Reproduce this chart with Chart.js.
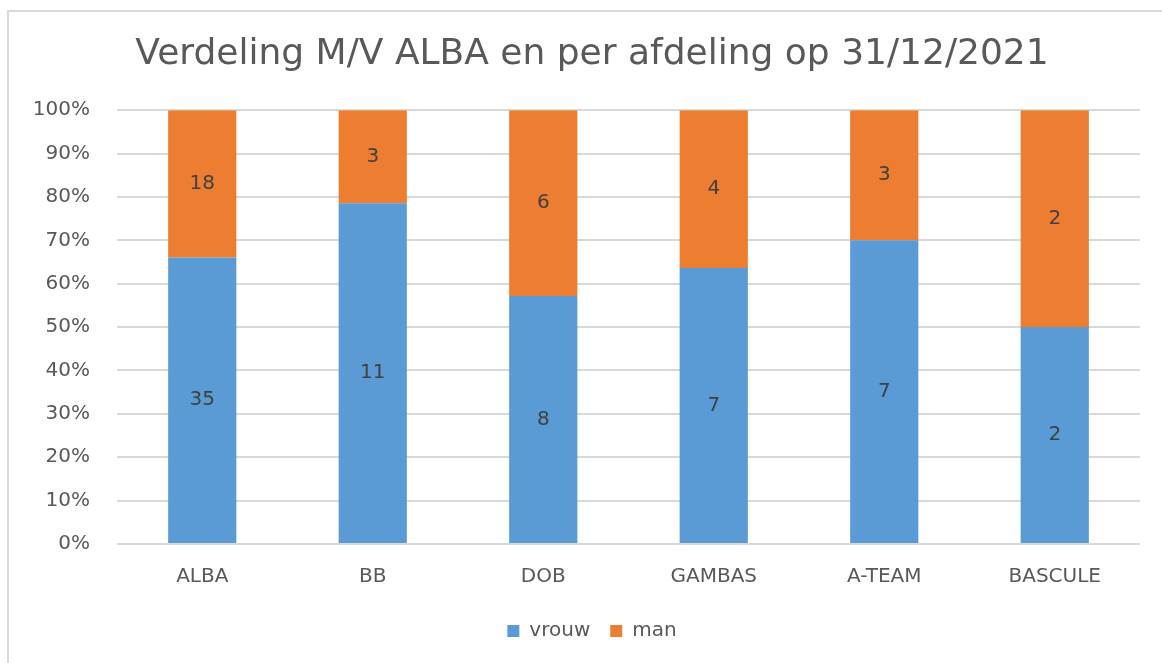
<!DOCTYPE html>
<html>
<head>
<meta charset="utf-8">
<script src="https://cdn.jsdelivr.net/npm/chart.js@4/dist/chart.umd.min.js"></script>
<style>
  html, body { margin: 0; padding: 0; background: #fff; }
  #wrap { width: 1162px; height: 663px; }
</style>
</head>
<body>
<div id="wrap"><canvas id="chart" width="1162" height="663"></canvas></div>
<script>
const categories = ["ALBA", "BB", "DOB", "GAMBAS", "A-TEAM", "BASCULE"];
const vrouw = [35, 11, 8, 7, 7, 2];
const man = [18, 3, 6, 4, 3, 2];
const yTicks = [0, 10, 20, 30, 40, 50, 60, 70, 80, 90, 100];

const totals = categories.map((c, i) => vrouw[i] + man[i]);
const pct = (arr) => arr.map((v, i) => (v / totals[i]) * 100);

const FONT = "'DejaVu Sans', sans-serif";
const GREY = "#595959";
const CENTER_X = 592;

// kader rond de grafiek
const frame = {
  id: "frame",
  beforeDraw(chart) {
    const ctx = chart.ctx;
    ctx.save();
    ctx.strokeStyle = "#d9d9d9";
    ctx.lineWidth = 2;
    ctx.strokeRect(8, 11, 1200, 700);
    ctx.restore();
  },
};

// titel en legende iets naar rechts, zoals in excel
const shiftBoxes = {
  id: "shiftBoxes",
  afterLayout(chart) {
    [chart.titleBlock, chart.legend].forEach((box) => {
      if (!box) return;
      const d = CENTER_X - (box.left + box.right) / 2;
      box.left += d;
      box.right += d;
    });
  },
};

// aantallen midden in elk segment
const counts = {
  id: "counts",
  afterDatasetsDraw(chart) {
    const ctx = chart.ctx;
    ctx.save();
    ctx.font = "20px " + FONT;
    ctx.fillStyle = "#404040";
    ctx.textAlign = "center";
    ctx.textBaseline = "middle";
    chart.data.datasets.forEach((ds, di) => {
      chart.getDatasetMeta(di).data.forEach((bar, i) => {
        const mid = (bar.y + bar.base) / 2;
        ctx.fillText(String(ds.counts[i]), bar.x, mid);
      });
    });
    ctx.restore();
  },
};

new Chart(document.getElementById("chart").getContext("2d"), {
  type: "bar",
  data: {
    labels: categories,
    datasets: [
      { label: "vrouw", data: pct(vrouw), counts: vrouw, backgroundColor: "#5b9bd5" },
      { label: "man", data: pct(man), counts: man, backgroundColor: "#ed7d31" },
    ],
  },
  options: {
    responsive: false,
    animation: false,
    layout: { padding: { top: 10, right: 22, bottom: 12, left: 0 } },
    datasets: { bar: { categoryPercentage: 0.8, barPercentage: 0.5 } },
    scales: {
      x: {
        stacked: true,
        grid: { display: false, drawTicks: false },
        border: { display: false },
        ticks: { color: GREY, font: { family: FONT, size: 20 }, padding: 21 },
        afterFit(scale) { scale.height = 57; },
      },
      y: {
        stacked: true,
        min: 0,
        max: 100,
        afterBuildTicks(scale) { scale.ticks = yTicks.map((v) => ({ value: v })); },
        grid: { color: "#d9d9d9", lineWidth: 2, drawTicks: false },
        border: { display: false },
        ticks: {
          color: GREY,
          font: { family: FONT, size: 20 },
          padding: 27,
          callback: (v) => v + "%",
        },
        afterFit(scale) { scale.width = 117; },
      },
    },
    plugins: {
      title: {
        display: true,
        text: "Verdeling M/V ALBA en per afdeling op 31/12/2021",
        color: GREY,
        font: { family: FONT, size: 36, weight: "normal" },
        padding: { top: 23, bottom: 34 },
      },
      legend: {
        position: "bottom",
        labels: {
          color: GREY,
          font: { family: FONT, size: 20 },
          boxWidth: 12,
          boxHeight: 12,
          padding: 20,
        },
      },
      tooltip: { enabled: false },
    },
  },
  plugins: [frame, shiftBoxes, counts],
});
</script>
</body>
</html>
